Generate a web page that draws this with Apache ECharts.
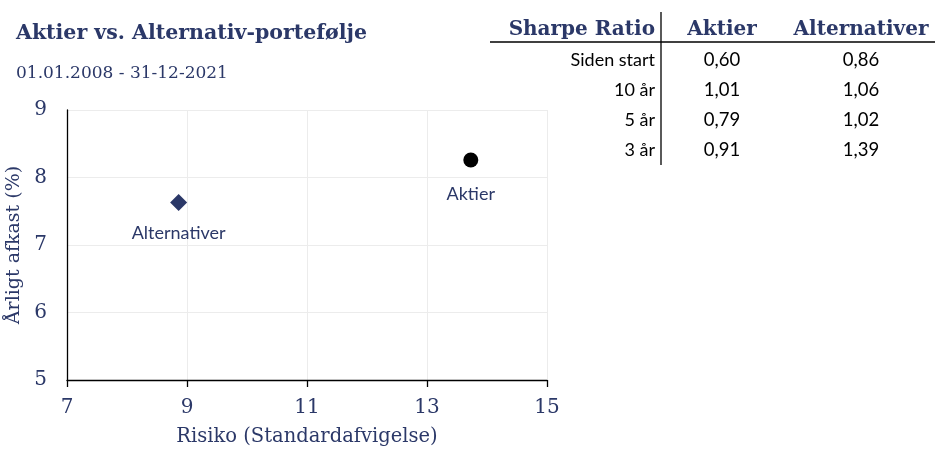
<!DOCTYPE html>
<html><head><meta charset="utf-8">
<script src="https://cdn.jsdelivr.net/npm/echarts@6/dist/echarts.min.js"></script>
<style>html,body{margin:0;padding:0;background:#fff}#c{width:950px;height:460px}</style>
</head><body><div id="c"></div>
<script>
const titleText = 'Aktier vs. Alternativ-portefølje';
const subtitleText = '01.01.2008 - 31-12-2021';
const seriesNames = ['Aktier', 'Alternativer'];
const riskValues = [13.73, 8.86];
const returnValues = [8.26, 7.63];
const tableHeader = ['Sharpe Ratio', 'Aktier', 'Alternativer'];
const rowLabels = ['Siden start', '10 år', '5 år', '3 år'];
const aktierSharpe = ['0,60', '1,01', '0,79', '0,91'];
const altSharpe = ['0,86', '1,06', '1,02', '1,39'];
const xAxisName = 'Risiko (Standardafvigelse)';
const yAxisName = 'Årligt afkast (%)';

const NAVY = '#2b3868';
const SERIF = 'Georgia, "DejaVu Serif", serif';
const SANS = 'Lato, "Open Sans", sans-serif';

const graphic = [
  {type:'text', left:16, top:23, style:{text:titleText, font:'bold 20.5px ' + SERIF, fill:NAVY}},
  {type:'text', left:16, top:65, style:{text:subtitleText, font:'17px ' + SERIF, fill:NAVY}},
  {type:'line', shape:{x1:490, y1:42, x2:935, y2:42}, style:{stroke:'#000', lineWidth:1.3}},
  {type:'line', shape:{x1:661, y1:12, x2:661, y2:165}, style:{stroke:'#000', lineWidth:1.3}}
];
const colX = [655, 722, 861];
tableHeader.forEach((h, i) => {
  graphic.push({type:'text', x:colX[i], y:30, style:{text:h, font:'bold 20px ' + SERIF, fill:NAVY, align:i===0?'right':'center', verticalAlign:'middle'}});
});
rowLabels.forEach((r, j) => {
  const y = 60 + j * 30;
  graphic.push({type:'text', x:colX[0], y:y, style:{text:r, font:'18px ' + SANS, fill:'#000', align:'right', verticalAlign:'middle'}});
  graphic.push({type:'text', x:colX[1], y:y, style:{text:aktierSharpe[j], font:'18.5px ' + SANS, fill:'#000', align:'center', verticalAlign:'middle'}});
  graphic.push({type:'text', x:colX[2], y:y, style:{text:altSharpe[j], font:'18.5px ' + SANS, fill:'#000', align:'center', verticalAlign:'middle'}});
});

const chart = echarts.init(document.getElementById('c'));
chart.setOption({
  animation:false,
  graphic: graphic,
  grid:{left:67, right:403, top:110, bottom:80, outerBoundsMode:'none', containLabel:false},
  xAxis:{
    type:'value', min:7, max:15, interval:2,
    name:xAxisName, nameLocation:'middle', nameGap:47,
    nameTextStyle:{fontFamily:SERIF, fontSize:19.5, color:NAVY},
    axisLine:{show:true, lineStyle:{color:'#000', width:1.3}},
    axisTick:{show:true, length:7, lineStyle:{color:'#000', width:1.3}},
    axisLabel:{fontFamily:SERIF, fontSize:20, color:NAVY, margin:18},
    splitLine:{show:true, lineStyle:{color:'#ececec', width:1}}
  },
  yAxis:{
    type:'value', min:5, max:9, interval:1,
    name:yAxisName, nameLocation:'middle', nameGap:38,
    nameTextStyle:{fontFamily:SERIF, fontSize:19, color:NAVY},
    axisLine:{show:true, lineStyle:{color:'#000', width:1.3}},
    axisTick:{show:false},
    axisLabel:{fontFamily:SERIF, fontSize:20, color:NAVY, margin:20},
    splitLine:{show:true, lineStyle:{color:'#ececec', width:1}}
  },
  series:[
    {name:seriesNames[0], type:'scatter', symbol:'circle', symbolSize:15,
     itemStyle:{color:'#000', opacity:1},
     data:[[riskValues[0], returnValues[0]]],
     label:{show:true, position:'bottom', distance:18, formatter:seriesNames[0], fontFamily:SANS, fontSize:18, color:NAVY, opacity:1}},
    {name:seriesNames[1], type:'scatter', symbol:'diamond', symbolSize:[17,17],
     itemStyle:{color:NAVY, opacity:1},
     data:[[riskValues[1], returnValues[1]]],
     label:{show:true, position:'bottom', distance:13, formatter:seriesNames[1], fontFamily:SANS, fontSize:18, color:NAVY, opacity:1}}
  ]
});
</script></body></html>
